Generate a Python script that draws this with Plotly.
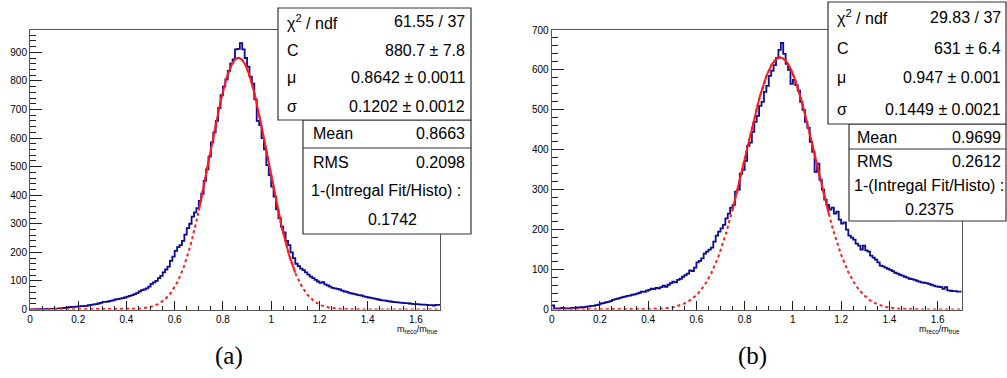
import numpy as np
import plotly.graph_objects as go

W, H = 1007, 378

# ---------------- data ----------------
BIN_LO = 0.0
BIN_W = 0.01
X_MAX = 1.7

counts_a = [
    0, 0, 1, 0, 1, 1, 1, 2, 2, 2,
    3, 3, 4, 5, 6, 7, 8, 9, 9, 10,
    11, 12, 12, 13, 15, 16, 18, 19, 21, 23,
    27, 27, 28, 30, 32, 35, 36, 38, 40, 42,
    45, 48, 50, 54, 57, 63, 68, 70, 74, 80,
    90, 95, 100, 110, 118, 130, 140, 150, 170, 185,
    205, 218, 225, 240, 262, 285, 300, 325, 340, 355,
    380, 405, 450, 490, 535, 585, 620, 660, 705, 750,
    780, 805, 835, 860, 875, 910, 912, 932, 910, 880,
    850, 815, 790, 735, 660, 645, 600, 560, 505, 470,
    430, 395, 350, 320, 290, 270, 240, 225, 200, 180,
    160, 152, 143, 138, 130, 122, 115, 110, 104, 98,
    93, 96, 88, 84, 80, 76, 74, 72, 70, 66,
    63, 62, 58, 56, 55, 52, 50, 49, 46, 44,
    42, 41, 39, 37, 35, 33, 32, 31, 29, 28,
    27, 26, 25, 24, 23, 22, 22, 21, 20, 19,
    19, 18, 17, 17, 16, 15, 15, 14, 16, 16,
]

counts_b = [
    10, 3, 2, 3, 4, 3, 3, 2, 4, 4,
    5, 5, 6, 6, 7, 8, 9, 9, 11, 12,
    15, 16, 18, 19, 21, 24, 26, 27, 29, 31,
    32, 34, 35, 37, 38, 40, 42, 45, 44, 47,
    49, 52, 51, 54, 53, 56, 60, 57, 62, 66,
    70, 68, 74, 77, 82, 86, 90, 98, 96, 105,
    118, 122, 128, 140, 145, 150, 155, 170, 185, 195,
    203, 212, 228, 240, 255, 262, 295, 300, 340, 350,
    372, 410, 418, 445, 470, 485, 510, 520, 545, 560,
    585, 598, 612, 630, 650, 668, 640, 615, 600, 565,
    575, 562, 548, 520, 500, 470, 455, 420, 395, 345,
    365, 325, 300, 275, 262, 250, 255, 240, 245, 225,
    215, 218, 200, 185, 180, 175, 165, 160, 150, 160,
    148, 145, 135, 130, 125, 118, 110, 108, 105, 102,
    99, 96, 92, 90, 87, 85, 82, 80, 77, 76,
    74, 72, 70, 68, 67, 66, 64, 62, 60, 58,
    57, 56, 52, 56, 48, 47, 46, 46, 45, 45,
]

# fit parameters (as printed in the stat boxes)
fit_a = dict(C=880.7, mu=0.8642, sigma=0.1202, lo=0.70, hi=1.10)
fit_b = dict(C=631.0, mu=0.947, sigma=0.1449, lo=0.75, hi=1.15)

stats_a = [("χ<sup>2</sup> / ndf", "61.55 / 37"), ("C", "880.7 ± 7.8"),
           ("μ", "0.8642 ± 0.0011"), ("σ", "0.1202 ± 0.0012")]
stats_b = [("χ<sup>2</sup> / ndf", "29.83 / 37"), ("C", "631 ± 6.4"),
           ("μ", "0.947 ± 0.001"), ("σ", "0.1449 ± 0.0021")]
mean_a, rms_a, frac_a = "0.8663", "0.2098", "0.1742"
mean_b, rms_b, frac_b = "0.9699", "0.2612", "0.2375"

ymax_a, ymax_b = 978, 700
x_title = "m<sub>reco</sub>/m<sub>true</sub>"
captions = ["(a)", "(b)"]

# ---------------- helpers ----------------
def px(x):
    return x / W

def py(y):
    return 1 - y / H

HIST_COLOR = "#0a0a96"
FIT_COLOR = "#ff1a1a"
FONT = "Liberation Sans, Arial, sans-serif"

fig = go.Figure()

panels = [
    dict(counts=counts_a, fit=fit_a, ymax=ymax_a, x0=30, x1=440, xa="x", ya="y"),
    dict(counts=counts_b, fit=fit_b, ymax=ymax_b, x0=551.7, x1=961.7, xa="x2", ya="y2"),
]

for p in panels:
    c = p["counts"]
    n = len(c)
    edges = BIN_LO + BIN_W * np.arange(n + 1)
    fig.add_trace(go.Scatter(
        x=edges, y=list(c) + [c[-1]], mode="lines", line_shape="hv",
        line=dict(color=HIST_COLOR, width=1.8), xaxis=p["xa"], yaxis=p["ya"],
        showlegend=False, hoverinfo="skip"))
    f = p["fit"]
    xf = np.linspace(0, X_MAX, 600)
    g = f["C"] * np.exp(-0.5 * ((xf - f["mu"]) / f["sigma"]) ** 2)
    fig.add_trace(go.Scatter(
        x=xf, y=g, mode="lines", line=dict(color=FIT_COLOR, width=2, dash="dot"),
        xaxis=p["xa"], yaxis=p["ya"], showlegend=False, hoverinfo="skip"))
    xs = np.linspace(f["lo"], f["hi"], 200)
    gs = f["C"] * np.exp(-0.5 * ((xs - f["mu"]) / f["sigma"]) ** 2)
    fig.add_trace(go.Scatter(
        x=xs, y=gs, mode="lines", line=dict(color=FIT_COLOR, width=2),
        xaxis=p["xa"], yaxis=p["ya"], showlegend=False, hoverinfo="skip"))

axis_common = dict(showgrid=False, zeroline=False, showline=True, mirror=True,
                   linecolor="#555555", linewidth=1, ticks="inside", automargin=False,
                   tickcolor="#222222", tickfont=dict(family=FONT, size=10, color="black"))

ytop, ybot = 30, 309.5
for i, p in enumerate(panels):
    sfx = "" if i == 0 else "2"
    fig.update_layout(**{
        "xaxis" + sfx: dict(domain=[px(p["x0"]), px(p["x1"])], range=[0, X_MAX],
                            tick0=0, dtick=0.2, ticklen=9, tickwidth=1,
                            minor=dict(dtick=0.05, ticklen=4, ticks="inside", tickcolor="#222222"),
                            anchor="y" + sfx, **axis_common),
        "yaxis" + sfx: dict(domain=[py(ybot), py(ytop)], range=[0, p["ymax"]],
                            tick0=0, dtick=100, ticklen=12, tickwidth=1,
                            minor=dict(dtick=20, ticklen=6, ticks="inside", tickcolor="#222222"),
                            anchor="x" + sfx, **axis_common),
    })

shapes = []
annotations = []

def box(x0, y0, x1, y1):
    shapes.append(dict(type="rect", xref="paper", yref="paper",
                       x0=px(x0), x1=px(x1), y0=py(y1), y1=py(y0),
                       fillcolor="white", line=dict(color="#333333", width=1.2),
                       layer="above"))

def hline(x0, x1, y):
    shapes.append(dict(type="line", xref="paper", yref="paper",
                       x0=px(x0), x1=px(x1), y0=py(y), y1=py(y),
                       line=dict(color="#333333", width=1.2), layer="above"))

def text(x, y, s, anchor="left", size=16):
    annotations.append(dict(x=px(x), y=py(y), xref="paper", yref="paper", text=s,
                            showarrow=False, xanchor=anchor, yanchor="middle",
                            font=dict(family=FONT, size=size, color="black")))

# --- left stat boxes ---
box(303, 120, 471, 234)
hline(303, 471, 148)
box(278, 8, 471, 120)
for (lab, val), yy in zip(stats_a, [22, 50, 78, 106]):
    text(285, yy, lab)
    text(467, yy, val, anchor="right")
text(311, 134, "Mean")
text(467, 134, mean_a, anchor="right")
text(311, 162, "RMS")
text(467, 162, rms_a, anchor="right")
text(309, 190, "1-(Intregal Fit/Histo) :")
text(392, 219, frac_a, anchor="center")

# --- right stat boxes ---
box(849, 124, 1006, 221)
hline(849, 1006, 149)
box(828, 2, 1006, 124)
for (lab, val), yy in zip(stats_b, [17, 48, 78, 109]):
    text(835, yy, lab)
    text(1003, yy, val, anchor="right")
text(855, 137, "Mean")
text(1003, 137, mean_b, anchor="right")
text(855, 161, "RMS")
text(1003, 161, rms_b, anchor="right")
text(852, 185, "1-(Intregal Fit/Histo) :")
text(929, 209, frac_b, anchor="center")

# axis titles
for p in panels:
    annotations.append(dict(x=px(p["x1"]), y=py(322), xref="paper", yref="paper",
                            text=x_title, showarrow=False, xanchor="right", yanchor="top",
                            font=dict(family=FONT, size=9, color="black")))

# captions
for cx, cap in zip([229, 752], captions):
    annotations.append(dict(x=px(cx), y=py(356), xref="paper", yref="paper", text=cap,
                            showarrow=False, xanchor="center", yanchor="middle",
                            font=dict(family="Liberation Serif, DejaVu Serif, serif",
                                      size=25, color="black")))

fig.update_layout(width=W, height=H, margin=dict(l=0, r=0, t=0, b=0, autoexpand=False),
                  paper_bgcolor="white", plot_bgcolor="white",
                  shapes=shapes, annotations=annotations, showlegend=False)

fig.write_html("out.html", config={"displayModeBar": False},
               post_script="document.body.style.margin='0px';document.body.style.padding='0px';")
